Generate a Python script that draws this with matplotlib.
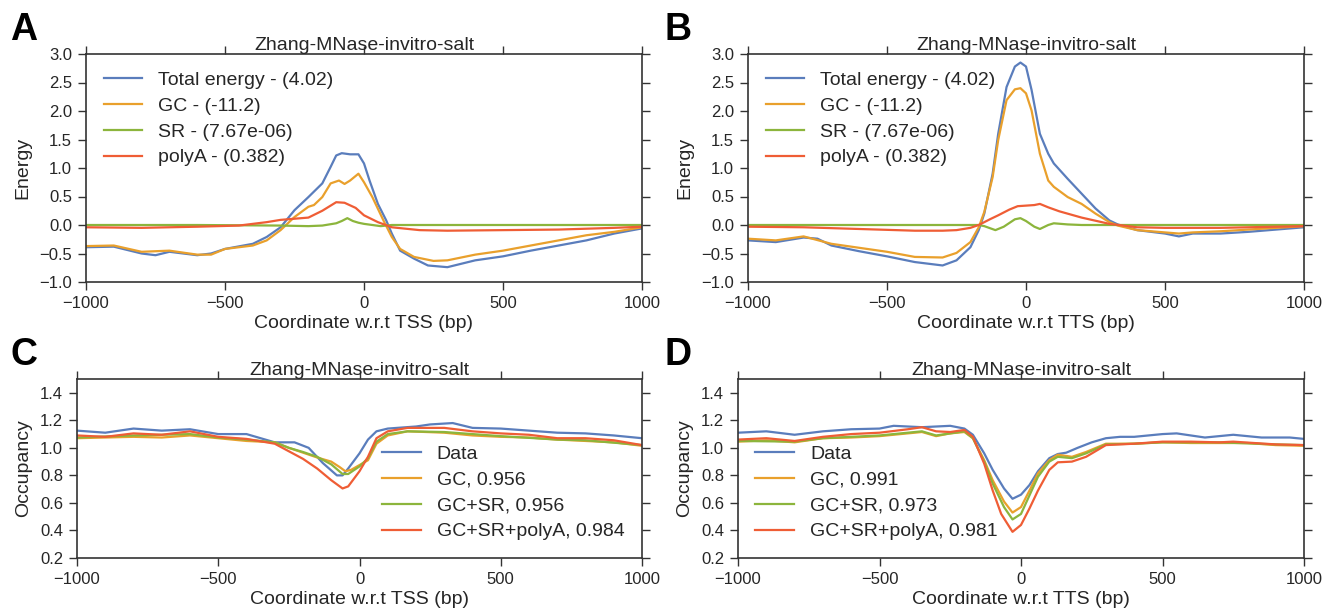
import numpy as np
import matplotlib.pyplot as plt

plt.rcParams['font.family'] = ['Liberation Sans', 'DejaVu Sans']
plt.rcParams['text.color'] = '#262626'
plt.rcParams['axes.labelcolor'] = '#262626'
plt.rcParams['xtick.color'] = '#262626'
plt.rcParams['ytick.color'] = '#262626'

blue = '#5A7DBC'
orange = '#E9A02C'
green = '#8CB53C'
red = '#EF5D35'

titulo = 'Zhang-MNase-invitro-salt'

# ---- Panel A: energia alrededor del TSS ----
a_tot_x = [-1000, -900, -800, -750, -700, -600, -550, -500, -400, -350, -300, -250, -200, -150, -120, -100,
           -80, -50, -20, 0, 20, 50, 80, 100, 130, 180, 230, 300, 350, 400, 500, 600, 700, 800, 900, 1000]
a_tot_y = [-0.39, -0.38, -0.50, -0.53, -0.47, -0.53, -0.50, -0.42, -0.33, -0.21, -0.04, 0.26, 0.49, 0.73, 1.02, 1.22,
           1.26, 1.24, 1.24, 1.08, 0.78, 0.37, 0.08, -0.15, -0.45, -0.59, -0.71, -0.74, -0.68, -0.62, -0.55, -0.45,
           -0.36, -0.27, -0.15, -0.06]
a_gc_x = [-1000, -900, -800, -700, -600, -550, -500, -400, -350, -300, -250, -200, -180, -150, -120, -90, -70,
          -50, -20, 0, 30, 70, 100, 130, 180, 250, 300, 400, 500, 600, 700, 800, 900, 1000]
a_gc_y = [-0.37, -0.36, -0.47, -0.45, -0.52, -0.52, -0.42, -0.36, -0.27, -0.09, 0.14, 0.32, 0.35, 0.49, 0.73, 0.78,
          0.72, 0.78, 0.90, 0.75, 0.49, 0.08, -0.21, -0.42, -0.56, -0.63, -0.62, -0.52, -0.45, -0.36, -0.27, -0.18,
          -0.12, -0.04]
a_sr_x = [-1000, -600, -300, -200, -150, -100, -80, -60, -40, -20, 0, 30, 60, 100, 200, 600, 1000]
a_sr_y = [0.0, 0.0, -0.01, -0.02, -0.01, 0.03, 0.07, 0.12, 0.07, 0.04, 0.02, 0.0, -0.02, 0.0, 0.0, 0.0, 0.0]
a_pa_x = [-1000, -800, -600, -450, -350, -300, -250, -200, -150, -100, -70, -30, 0, 50, 100, 200, 300, 500,
          700, 900, 1000]
a_pa_y = [-0.04, -0.05, -0.03, -0.01, 0.05, 0.09, 0.11, 0.13, 0.25, 0.40, 0.39, 0.30, 0.17, 0.05, -0.04, -0.09,
          -0.10, -0.09, -0.08, -0.05, -0.03]

# ---- Panel B: energia alrededor del TTS ----
b_tot_x = [-1000, -900, -800, -750, -700, -600, -500, -400, -350, -300, -250, -200, -170, -150, -120, -100,
           -70, -40, -20, 0, 20, 50, 80, 100, 150, 200, 250, 300, 330, 400, 500, 550, 600, 700, 800, 900, 1000]
b_tot_y = [-0.27, -0.30, -0.22, -0.24, -0.36, -0.46, -0.55, -0.65, -0.68, -0.71, -0.62, -0.39, -0.09, 0.20, 0.90,
           1.60, 2.42, 2.78, 2.85, 2.78, 2.37, 1.60, 1.25, 1.08, 0.81, 0.55, 0.29, 0.08, 0.01, -0.09, -0.15, -0.20,
           -0.15, -0.15, -0.12, -0.08, -0.04]
b_gc_x = [-1000, -900, -800, -700, -600, -500, -400, -300, -250, -200, -170, -150, -120, -100, -70, -40, -20, 0,
          20, 50, 80, 100, 150, 200, 250, 300, 330, 400, 500, 550, 600, 700, 800, 900, 1000]
b_gc_y = [-0.24, -0.27, -0.20, -0.33, -0.40, -0.47, -0.56, -0.57, -0.49, -0.30, -0.04, 0.23, 0.84, 1.49, 2.19,
          2.38, 2.40, 2.31, 2.01, 1.25, 0.78, 0.67, 0.49, 0.37, 0.20, 0.05, -0.01, -0.09, -0.13, -0.15, -0.13,
          -0.11, -0.08, -0.05, -0.02]
b_sr_x = [-1000, -600, -200, -170, -150, -110, -80, -40, -20, 0, 30, 50, 80, 100, 150, 200, 600, 1000]
b_sr_y = [0.0, 0.0, 0.0, 0.0, -0.02, -0.09, -0.03, 0.10, 0.12, 0.07, -0.03, -0.07, 0.0, 0.03, 0.01, 0.0, 0.0, 0.0]
b_pa_x = [-1000, -800, -600, -400, -300, -250, -200, -170, -130, -100, -60, -30, 0, 30, 50, 80, 120, 200, 300,
          400, 500, 700, 900, 1000]
b_pa_y = [-0.03, -0.04, -0.07, -0.10, -0.10, -0.09, -0.05, 0.0, 0.10, 0.17, 0.27, 0.33, 0.34, 0.35, 0.37, 0.31,
          0.24, 0.13, 0.02, -0.04, -0.05, -0.05, -0.03, -0.02]

# ---- Panel C: ocupacion alrededor del TSS ----
c_dat_x = [-1000, -900, -800, -700, -600, -500, -400, -300, -230, -180, -130, -80, -60, -40, 0, 30, 60, 100,
           200, 250, 330, 400, 500, 600, 700, 800, 900, 1000]
c_dat_y = [1.125, 1.11, 1.14, 1.125, 1.135, 1.10, 1.10, 1.04, 1.04, 1.0, 0.89, 0.80, 0.80, 0.85, 0.96, 1.06,
           1.12, 1.14, 1.155, 1.17, 1.18, 1.145, 1.14, 1.125, 1.11, 1.105, 1.09, 1.07]
c_gc_x = [-1000, -800, -700, -600, -500, -400, -300, -250, -200, -150, -100, -70, -50, -30, 0, 30, 60, 100,
          170, 300, 400, 500, 600, 700, 800, 900, 1000]
c_gc_y = [1.07, 1.08, 1.075, 1.09, 1.07, 1.05, 1.04, 1.0, 0.965, 0.93, 0.90, 0.86, 0.83, 0.84, 0.875, 0.91,
          1.03, 1.09, 1.12, 1.11, 1.09, 1.08, 1.075, 1.06, 1.05, 1.04, 1.015]
c_sr_x = [-1000, -800, -600, -500, -400, -300, -250, -200, -150, -100, -60, -40, 0, 30, 60, 100, 170, 300, 500,
          700, 800, 1000]
c_sr_y = [1.075, 1.09, 1.10, 1.075, 1.06, 1.04, 1.0, 0.97, 0.935, 0.88, 0.81, 0.81, 0.865, 0.925, 1.045, 1.10,
          1.12, 1.115, 1.085, 1.06, 1.055, 1.02]
c_pa_x = [-1000, -900, -800, -700, -600, -500, -400, -300, -250, -200, -150, -100, -60, -40, 0, 30, 60, 100,
          170, 300, 400, 500, 600, 700, 800, 900, 1000]
c_pa_y = [1.09, 1.08, 1.105, 1.095, 1.12, 1.08, 1.065, 1.03, 0.975, 0.92, 0.85, 0.765, 0.705, 0.72, 0.83,
          0.935, 1.07, 1.12, 1.145, 1.145, 1.12, 1.105, 1.095, 1.07, 1.07, 1.055, 1.02]

# ---- Panel D: ocupacion alrededor del TTS ----
d_dat_x = [-1000, -900, -800, -700, -600, -500, -450, -350, -300, -250, -200, -170, -130, -100, -60, -30, 0,
           30, 60, 100, 130, 160, 200, 250, 300, 350, 400, 500, 550, 650, 750, 850, 950, 1000]
d_dat_y = [1.11, 1.12, 1.095, 1.12, 1.135, 1.14, 1.16, 1.15, 1.155, 1.16, 1.14, 1.095, 0.96, 0.84, 0.705, 0.63,
           0.66, 0.73, 0.83, 0.925, 0.955, 0.965, 1.0, 1.04, 1.07, 1.08, 1.08, 1.10, 1.105, 1.075, 1.095, 1.075,
           1.075, 1.065]
d_gc_x = [-1000, -900, -800, -700, -600, -500, -400, -350, -300, -250, -200, -170, -130, -100, -60, -30, 0, 30,
          60, 100, 130, 180, 230, 300, 400, 500, 600, 700, 800, 900, 1000]
d_gc_y = [1.045, 1.055, 1.04, 1.07, 1.075, 1.085, 1.105, 1.115, 1.085, 1.105, 1.115, 1.07, 0.91, 0.765, 0.61,
          0.53, 0.57, 0.69, 0.815, 0.91, 0.95, 0.935, 0.97, 1.03, 1.03, 1.04, 1.035, 1.035, 1.035, 1.02, 1.015]
d_sr_x = [-1000, -800, -700, -500, -350, -300, -200, -170, -130, -100, -60, -30, 0, 30, 60, 100, 130, 180, 230,
          300, 400, 500, 700, 900, 1000]
d_sr_y = [1.05, 1.045, 1.07, 1.09, 1.12, 1.09, 1.12, 1.07, 0.90, 0.74, 0.57, 0.48, 0.52, 0.655, 0.79, 0.90,
          0.935, 0.925, 0.96, 1.025, 1.03, 1.04, 1.04, 1.025, 1.02]
d_pa_x = [-1000, -900, -800, -700, -600, -500, -400, -350, -300, -250, -200, -170, -130, -100, -70, -30, 0, 30,
          60, 100, 130, 180, 230, 300, 400, 500, 600, 700, 750, 900, 1000]
d_pa_y = [1.06, 1.07, 1.05, 1.08, 1.10, 1.11, 1.135, 1.15, 1.12, 1.115, 1.13, 1.08, 0.885, 0.69, 0.52, 0.39,
          0.44, 0.56, 0.69, 0.84, 0.895, 0.90, 0.935, 1.02, 1.03, 1.045, 1.045, 1.04, 1.045, 1.025, 1.02]

energia_labels = ['Total energy - (4.02)', 'GC - (-11.2)', 'SR - (7.67e-06)', 'polyA - (0.382)']
c_labels = ['Data', 'GC, 0.956', 'GC+SR, 0.956', 'GC+SR+polyA, 0.984']
d_labels = ['Data', 'GC, 0.991', 'GC+SR, 0.973', 'GC+SR+polyA, 0.981']
colores = [blue, orange, green, red]

fig = plt.figure(figsize=(13.23, 6.14), dpi=100)
W, H = 1323, 614


def caja(izq, der, arriba, abajo):
    return [izq / W, (H - abajo) / H, (der - izq) / W, (abajo - arriba) / H]


def un_decimal(v, pos):
    # signo menos largo, como en la figura original
    return ('%.1f' % v).replace('-', '\u2212')


def estilo(ax, xlabel, ylabel):
    ax.set_xlim(-1000, 1000)
    ax.set_xticks([-1000, -500, 0, 500, 1000])
    ax.tick_params(direction='out', length=6, width=1, labelsize=12, pad=4,
                   top=True, right=True, color='#333333')
    for s in ax.spines.values():
        s.set_color('#333333')
        s.set_linewidth(1.2)
    ax.set_xlabel(xlabel, fontsize=14, labelpad=3)
    ax.set_ylabel(ylabel, fontsize=14, labelpad=6)
    ax.set_title(titulo, fontsize=14, pad=3)
    ax.yaxis.set_major_formatter(plt.FuncFormatter(un_decimal))


axA = fig.add_axes(caja(86, 642, 54, 282))
axB = fig.add_axes(caja(748, 1304, 54, 282))
axC = fig.add_axes(caja(77, 642, 379, 558))
axD = fig.add_axes(caja(738, 1304, 379, 558))

series_A = [(a_tot_x, a_tot_y), (a_gc_x, a_gc_y), (a_sr_x, a_sr_y), (a_pa_x, a_pa_y)]
series_B = [(b_tot_x, b_tot_y), (b_gc_x, b_gc_y), (b_sr_x, b_sr_y), (b_pa_x, b_pa_y)]
series_C = [(c_dat_x, c_dat_y), (c_gc_x, c_gc_y), (c_sr_x, c_sr_y), (c_pa_x, c_pa_y)]
series_D = [(d_dat_x, d_dat_y), (d_gc_x, d_gc_y), (d_sr_x, d_sr_y), (d_pa_x, d_pa_y)]

for ax, series, labels, loc, xl, yl in [
        (axA, series_A, energia_labels, 'upper left', 'Coordinate w.r.t TSS (bp)', 'Energy'),
        (axB, series_B, energia_labels, 'upper left', 'Coordinate w.r.t TTS (bp)', 'Energy'),
        (axC, series_C, c_labels, 'lower right', 'Coordinate w.r.t TSS (bp)', 'Occupancy'),
        (axD, series_D, d_labels, 'lower left', 'Coordinate w.r.t TTS (bp)', 'Occupancy')]:
    for (x, y), c, lab in zip(series, colores, labels):
        ax.plot(x, y, color=c, lw=1.6, label=lab, solid_joinstyle='round')
    estilo(ax, xl, yl)
    ax.legend(loc=loc, frameon=False, fontsize=14, handlelength=2.0,
              handletextpad=0.8, labelspacing=0.42)

for ax in (axA, axB):
    ax.set_ylim(-1.0, 3.0)
    ax.set_yticks(np.arange(-1.0, 3.01, 0.5))
for ax in (axC, axD):
    ax.set_ylim(0.2, 1.5)
    ax.set_yticks(np.arange(0.2, 1.41, 0.2))

# letras de los paneles
for letra, x, y in [('A', 10, 30), ('B', 664, 30), ('C', 10, 355), ('D', 664, 355)]:
    fig.text(x / W, 1 - y / H, letra, fontsize=27, fontweight='bold', va='center', ha='left', color='black')

fig.savefig('out.png', dpi=100)
